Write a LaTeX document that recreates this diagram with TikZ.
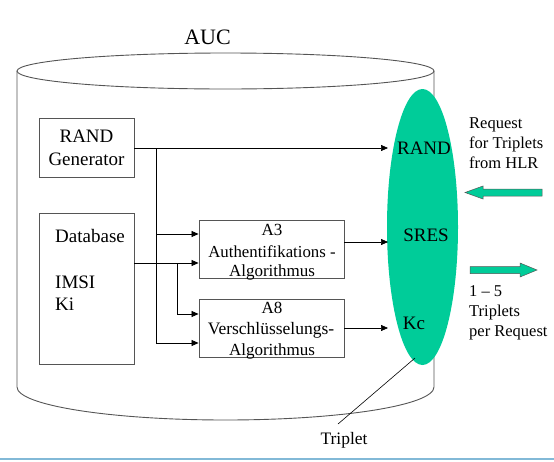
\documentclass[tikz,border=0pt]{standalone}
\usepackage{fontspec}
\setmainfont{Liberation Serif}
\usetikzlibrary{arrows.meta,shapes.geometric}
\definecolor{tgreen}{RGB}{0,204,153}
\definecolor{tline}{RGB}{85,85,85}
\definecolor{tblue}{RGB}{130,185,215}
\tikzset{
  boxst/.style={draw=tline, line width=0.9pt, inner sep=0pt},
  conn/.style={draw=black, line width=0.7pt},
  arr/.style={conn, -{Triangle[length=7pt,width=6pt]}},
  txt/.style={inner sep=0pt, text=black},
  fatarrow/.style={fill=tgreen, draw=tline, line width=0.5pt},
}
\newcommand{\fs}[1]{\fontsize{#1}{#1}\selectfont}
\begin{document}
\begin{tikzpicture}[x=1pt,y=-1pt]
\useasboundingbox (0,0) rectangle (554,461);
% blue line
\draw[tblue, line width=2pt] (0,459) -- (554,459);
% cylinder
\draw[tline, line width=0.9pt] (225.5,71) ellipse [x radius=208.5, y radius=18];
\draw[tline, line width=0.9pt] (17,71) -- (17,387) arc[start angle=180, end angle=0, x radius=208.5, y radius=33] -- (434,71);
\node[txt, font=\fs{22}] (auc) at (207.5,37) {AUC};
% ellipse
\node[fill=tgreen, ellipse, minimum width=71, minimum height=276, inner sep=0pt] (triplet) at (422.5,227) {};
% boxes
\node[boxst, minimum width=95, minimum height=59] (rg) at (86.5,147.5) {};
\node[txt, font=\fs{19}, align=center] (rgt) at (86.5,148) {RAND\\[4pt]Generator};
\node[boxst, minimum width=95, minimum height=151] (db) at (86.5,288.5) {};
\node[txt, font=\fs{19}, anchor=west] (dbt) at (55,236) {Database};
\node[txt, font=\fs{19}, anchor=west, align=left] (dbk) at (55,293) {IMSI\\[3pt]Ki};
\node[boxst, minimum width=145, minimum height=58] (a3) at (271.5,249) {};
\node[txt, font=\fs{17}] (a3a) at (272,230) {A3};
\node[txt, font=\fs{16.8}] (a3b) at (272,252) {Authentifikations -};
\node[txt, font=\fs{17}] (a3c) at (272,272) {Algorithmus};
\node[boxst, minimum width=145, minimum height=58] (a8) at (271.5,328) {};
\node[txt, font=\fs{17}] (a8a) at (272,308) {A8};
\node[txt, font=\fs{17.5}] (a8b) at (271,330) {Verschlüsselungs-};
\node[txt, font=\fs{17}] (a8c) at (272,351) {Algorithmus};
% ellipse labels
\node[txt, font=\fs{19}] (erand) at (424,148) {RAND};
\node[txt, font=\fs{19}] (esres) at (426,235) {SRES};
\node[txt, font=\fs{19}] (ekc) at (414,323) {Kc};
% connectors
\coordinate (randin) at (388,148);
\coordinate (j1) at (156,148);
\coordinate (j2) at (156,343);
\coordinate (j3) at (177,263);
\draw[arr] (rg.east |- randin) -- (randin);
\draw[conn] (j1) -- (j2);
\draw[arr] (j1 |- 0,234) -- (a3.west |- 0,234);
\draw[arr] (j2) -- (a8.west |- j2);
\draw[arr] (db.east |- j3) -- (a3.west |- j3);
\draw[conn] (j3) -- (j3 |- 0,314);
\draw[arr] (j3 |- 0,314) -- (a8.west |- 0,314);
\coordinate (sresin) at (388,242);
\coordinate (kcin) at (388,328);
\draw[arr] (a3.east |- sresin) -- (sresin);
\draw[arr] (a8.east |- kcin) -- (kcin);
% right side
\node[txt, font=\fs{16.5}, anchor=north west, align=left] (req) at (469,117) {Request\\[3.5pt]for Triplets\\[3.5pt]from HLR};
\node[txt, font=\fs{16.5}, anchor=north west, align=left] (per) at (469,285) {1 -- 5\\[3.5pt]Triplets\\[3.5pt]per Request};
\draw[fatarrow] (465,192.5) -- (483,186) -- (483,189) -- (542,189) -- (542,196) -- (483,196) -- (483,199) -- cycle;
\draw[fatarrow] (537,270) -- (520,263) -- (520,266.5) -- (470,266.5) -- (470,273.5) -- (520,273.5) -- (520,277) -- cycle;
% triplet label
\node[txt, font=\fs{17.5}] (tl) at (344,440) {Triplet};
\coordinate (tin) at (415,358);
\draw[conn, line width=0.6pt] (338,424) -- (tin);
\end{tikzpicture}
\end{document}
